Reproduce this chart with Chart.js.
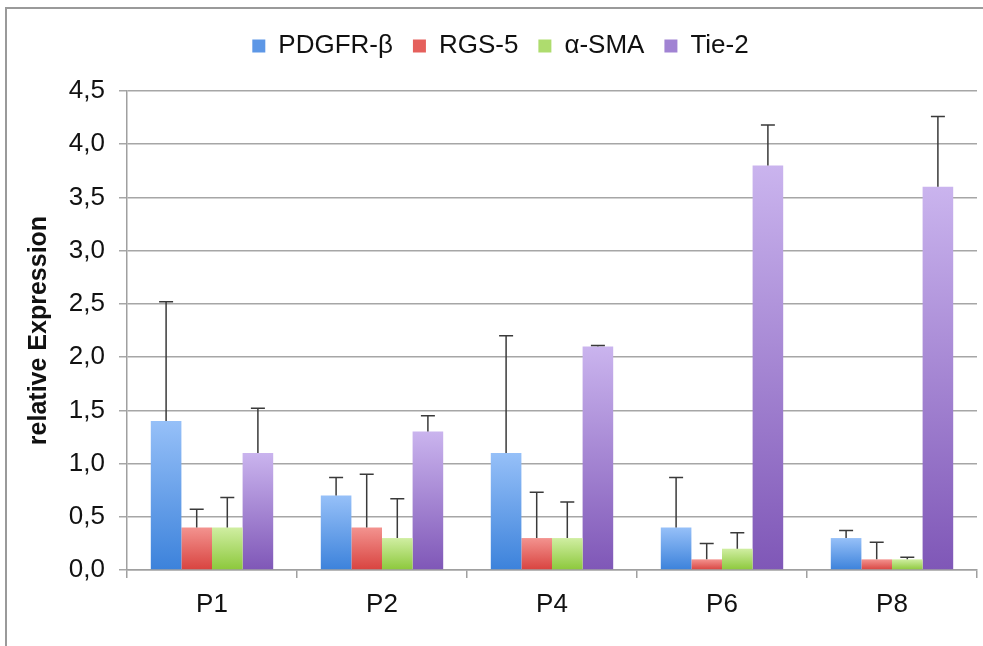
<!DOCTYPE html>
<html>
<head>
<meta charset="utf-8">
<script src="https://cdn.jsdelivr.net/npm/chart.js@4.4.1/dist/chart.umd.min.js"></script>
<style>
  html, body { margin: 0; padding: 0; background: #fff; }
  #wrap { position: relative; width: 983px; height: 646px; }
  #frame { position: absolute; left: 5px; top: 7px; right: 0; bottom: 0;
           border-top: 2px solid #9a9a9a; border-left: 2px solid #9a9a9a; pointer-events: none; }
  canvas { position: absolute; left: 0; top: 0; }
</style>
</head>
<body>
<div id="wrap">
  <canvas id="chart" width="983" height="646"></canvas>
  <div id="frame"></div>
</div>
<script>
// categories and series
const CATEGORIES = ['P1', 'P2', 'P4', 'P6', 'P8']
const SERIES = ['PDGFR-β', 'RGS-5', 'α-SMA', 'Tie-2']

const PDGFR = [1.4, 0.7, 1.1, 0.4, 0.3]
const RGS5  = [0.4, 0.4, 0.3, 0.1, 0.1]
const ASMA  = [0.4, 0.3, 0.3, 0.2, 0.1]
const TIE2  = [1.1, 1.3, 2.1, 3.8, 3.6]

// upper error (SD) for each bar
const PDGFR_ERR = [1.12, 0.17, 1.10, 0.47, 0.07]
const RGS5_ERR  = [0.17, 0.50, 0.43, 0.15, 0.16]
const ASMA_ERR  = [0.28, 0.37, 0.34, 0.15, 0.02]
const TIE2_ERR  = [0.42, 0.15, 0.01, 0.38, 0.66]

const Y_TICKS = [0, 0.5, 1, 1.5, 2, 2.5, 3, 3.5, 4, 4.5]

// top / bottom gradient stops per series
const COLORS = [
  ['#96c0f8', '#3c82db'],
  ['#f3938f', '#d8433f'],
  ['#d0eea2', '#8cc83b'],
  ['#cab4ee', '#7f57b7'],
]
const LEGEND_COLORS = ['#5d97e6', '#e5605c', '#aedc6e', '#a183d3']

const FONT = 'Liberation Sans, Arial, sans-serif'

function barGradient(idx) {
  return ctx => {
    const chart = ctx.chart
    if (!chart.chartArea || ctx.raw == null) return COLORS[idx][1]
    const y = chart.scales.y
    const top = y.getPixelForValue(ctx.raw)
    const bottom = y.getPixelForValue(0)
    const g = chart.ctx.createLinearGradient(0, top, 0, bottom)
    g.addColorStop(0, COLORS[idx][0])
    g.addColorStop(1, COLORS[idx][1])
    return g
  }
}

const values = [PDGFR, RGS5, ASMA, TIE2]
const errors = [PDGFR_ERR, RGS5_ERR, ASMA_ERR, TIE2_ERR]

const datasets = SERIES.map((name, i) => ({
  label: name,
  data: values[i],
  errors: errors[i],
  backgroundColor: barGradient(i),
  borderWidth: 0,
  barPercentage: 1.0,
  categoryPercentage: 0.72,
}))

// draws the upper error whiskers
const errorBars = {
  id: 'errorBars',
  afterDatasetsDraw(chart) {
    const c = chart.ctx
    const y = chart.scales.y
    c.save()
    c.strokeStyle = '#3a3a3a'
    c.lineWidth = 1.5
    chart.data.datasets.forEach((ds, di) => {
      chart.getDatasetMeta(di).data.forEach((bar, i) => {
        const top = y.getPixelForValue(ds.data[i] + ds.errors[i])
        c.beginPath()
        c.moveTo(bar.x, bar.y)
        c.lineTo(bar.x, top)
        c.moveTo(bar.x - 7, top)
        c.lineTo(bar.x + 7, top)
        c.stroke()
      })
    })
    c.restore()
  },
}

// push the plot down below the legend
const legendGap = {
  id: 'legendGap',
  beforeInit(chart) {
    const fit = chart.legend.fit
    chart.legend.fit = function () {
      fit.bind(chart.legend)()
      this.height += 22
    }
  },
}

new Chart(document.getElementById('chart'), {
  type: 'bar',
  data: { labels: CATEGORIES, datasets },
  plugins: [errorBars, legendGap],
  options: {
    responsive: false,
    animation: false,
    layout: { padding: { top: 13, right: 6, left: 24, bottom: 0 } },
    plugins: {
      tooltip: { enabled: false },
      legend: {
        position: 'top',
        labels: {
          color: '#111',
          font: { family: FONT, size: 26 },
          boxWidth: 13,
          boxHeight: 13,
          padding: 20,
          generateLabels: chart => chart.data.datasets.map((ds, i) => ({
            text: ds.label,
            fillStyle: LEGEND_COLORS[i],
            strokeStyle: LEGEND_COLORS[i],
            lineWidth: 0,
            datasetIndex: i,
            fontColor: '#111',
          })),
        },
      },
    },
    scales: {
      x: {
        afterFit: s => { s.height = 76 },
        grid: { drawOnChartArea: false, drawTicks: true, tickLength: 8, color: '#a0a0a0', lineWidth: 1.5 },
        border: { color: '#a0a0a0', width: 1.5 },
        ticks: { color: '#111', padding: 11, font: { family: FONT, size: 26 } },
      },
      y: {
        min: 0,
        max: 4.5,
        afterBuildTicks: s => { s.ticks = Y_TICKS.map(v => ({ value: v })) },
        afterFit: s => { s.width = 103 },
        grid: { color: '#a6a6a6', lineWidth: 1.5, tickLength: 8 },
        border: { color: '#a0a0a0', width: 1.5 },
        title: {
          display: true,
          text: 'relative Expression',
          color: '#111',
          font: { family: FONT, size: 25, weight: 'bold' },
          padding: 0,
        },
        ticks: {
          color: '#111',
          padding: 14,
          font: { family: FONT, size: 26 },
          callback: v => v.toFixed(1).replace('.', ','),
        },
      },
    },
  },
})
</script>
</body>
</html>
